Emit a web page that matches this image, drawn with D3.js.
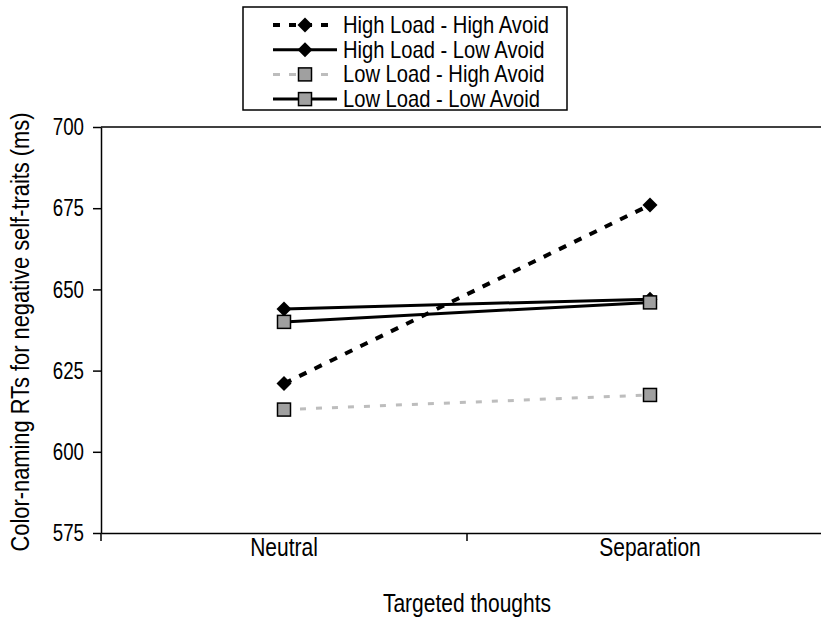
<!DOCTYPE html>
<html>
<head>
<meta charset="utf-8">
<script src="https://cdn.jsdelivr.net/npm/d3@7"></script>
<style>
  body { margin: 0; background: #fff; }
  text { font-family: "Liberation Sans", Arial, sans-serif; fill: #000; }
</style>
</head>
<body>
<div id="chart"></div>
<script>
// data
var categories = ["Neutral", "Separation"];
var seriesNames = ["High Load - High Avoid", "High Load - Low Avoid", "Low Load - High Avoid", "Low Load - Low Avoid"];
var highLoadHighAvoid = [621, 676];
var highLoadLowAvoid = [644, 647];
var lowLoadHighAvoid = [613, 617.5];
var lowLoadLowAvoid = [640, 646];
var yTicks = [575, 600, 625, 650, 675, 700];

var fontFam = "'Liberation Sans', Arial, sans-serif";

var svgWidth = 821, svgHeight = 632;
var margin = { top: 127, left: 101, bottom: 99, right: -12 };
var width = svgWidth - margin.left - margin.right;
var height = svgHeight - margin.top - margin.bottom;

// the original type is a condensed sans, so squeeze glyphs horizontally
function squish(sel, k) {
  sel.each(function() {
    var len = this.getComputedTextLength();
    d3.select(this).attr("textLength", len * k).attr("lengthAdjust", "spacingAndGlyphs");
  });
}

var svg = d3.select("#chart").append("svg")
  .attr("width", svgWidth)
  .attr("height", svgHeight);

var chartGroup = svg.append("g")
  .attr("transform", `translate(${margin.left}, ${margin.top})`);

var xScale = d3.scaleBand().domain(categories).range([0, width]);
var yScale = d3.scaleLinear().domain([575, 700]).range([height, 0]);

// styles for each series
var series = [
  { name: seriesNames[0], values: highLoadHighAvoid, stroke: "#000", dash: "8,9", sw: 4, marker: "diamond" },
  { name: seriesNames[1], values: highLoadLowAvoid, stroke: "#000", dash: null, sw: 3, marker: "diamond" },
  { name: seriesNames[2], values: lowLoadHighAvoid, stroke: "#bdbdbd", dash: "6,10", sw: 3, marker: "square" },
  { name: seriesNames[3], values: lowLoadLowAvoid, stroke: "#000", dash: null, sw: 3, marker: "square" }
];

// top border of plot area
chartGroup.append("line")
  .attr("x1", 0).attr("x2", width)
  .attr("y1", yScale(700)).attr("y2", yScale(700))
  .attr("stroke", "#000").attr("stroke-width", 1.5);

// y axis
var yAxis = d3.axisLeft(yScale).tickValues(yTicks).tickSize(8).tickSizeOuter(0).tickPadding(9);
var yG = chartGroup.append("g").call(yAxis);
yG.select(".domain").attr("stroke-width", 1.5);
yG.selectAll(".tick line").attr("stroke-width", 1.5);
yG.selectAll("text").attr("font-size", 24).style("font-family", fontFam).call(squish, 0.78);

// x axis: category labels, plus ticks at the category boundaries
var xAxis = d3.axisBottom(xScale).tickSize(0).tickPadding(5);
var xG = chartGroup.append("g")
  .attr("transform", `translate(0, ${height})`)
  .call(xAxis);
xG.select(".domain").attr("stroke-width", 1.5);
xG.selectAll("text").attr("font-size", 25).style("font-family", fontFam).call(squish, 0.84);

var bounds = categories.map(c => xScale(c)).concat([xScale.range()[1]]);
chartGroup.append("g").selectAll("line")
  .data(bounds)
  .enter()
  .append("line")
  .attr("x1", d => d).attr("x2", d => d)
  .attr("y1", height).attr("y2", height + 8)
  .attr("stroke", "#000").attr("stroke-width", 1.5);

// lines
var line = d3.line()
  .x((d, i) => xScale(categories[i]) + xScale.bandwidth() / 2)
  .y(d => yScale(d));

chartGroup.selectAll(".series")
  .data(series)
  .enter()
  .append("path")
  .attr("class", "series")
  .attr("d", d => line(d.values))
  .attr("fill", "none")
  .attr("stroke", d => d.stroke)
  .attr("stroke-width", d => d.sw)
  .attr("stroke-dasharray", d => d.dash);

function drawMarker(g, type, x, y) {
  if (type === "diamond") {
    g.append("path")
      .attr("d", `M${x},${y - 7.5}L${x + 7.5},${y}L${x},${y + 7.5}L${x - 7.5},${y}Z`)
      .attr("fill", "#000");
  } else {
    g.append("rect")
      .attr("x", x - 6.5).attr("y", y - 6.5)
      .attr("width", 13).attr("height", 13)
      .attr("fill", "#a0a0a0").attr("stroke", "#000").attr("stroke-width", 1.5);
  }
}

var markerGroup = chartGroup.append("g");
series.forEach(function(s) {
  s.values.forEach(function(v, i) {
    drawMarker(markerGroup, s.marker, xScale(categories[i]) + xScale.bandwidth() / 2, yScale(v));
  });
});

// axis titles
svg.append("text")
  .attr("transform", `translate(29, ${margin.top + height / 2 + 2}) rotate(-90)`)
  .attr("text-anchor", "middle")
  .attr("font-size", 26)
  .text("Color-naming RTs for negative self-traits (ms)")
  .call(squish, 0.84);

svg.append("text")
  .attr("x", margin.left + xScale(categories[1]))
  .attr("y", 612)
  .attr("text-anchor", "middle")
  .attr("font-size", 25)
  .text("Targeted thoughts")
  .call(squish, 0.84);

// legend
var legend = svg.append("g").attr("transform", "translate(243, 7)");
legend.append("rect")
  .attr("width", 324).attr("height", 103)
  .attr("fill", "#fff").attr("stroke", "#000").attr("stroke-width", 1.5);

series.forEach(function(s, i) {
  var cy = 18 + i * 24.7;
  var row = legend.append("g");
  row.append("line")
    .attr("x1", 30).attr("x2", 94)
    .attr("y1", cy).attr("y2", cy)
    .attr("stroke", s.stroke)
    .attr("stroke-width", s.sw)
    .attr("stroke-dasharray", s.dash ? "7,9" : null);
  drawMarker(row, s.marker, 62, cy);
  row.append("text")
    .attr("x", 100).attr("y", cy + 8)
    .attr("font-size", 24)
    .text(s.name)
    .call(squish, 0.84);
});
</script>
</body>
</html>
